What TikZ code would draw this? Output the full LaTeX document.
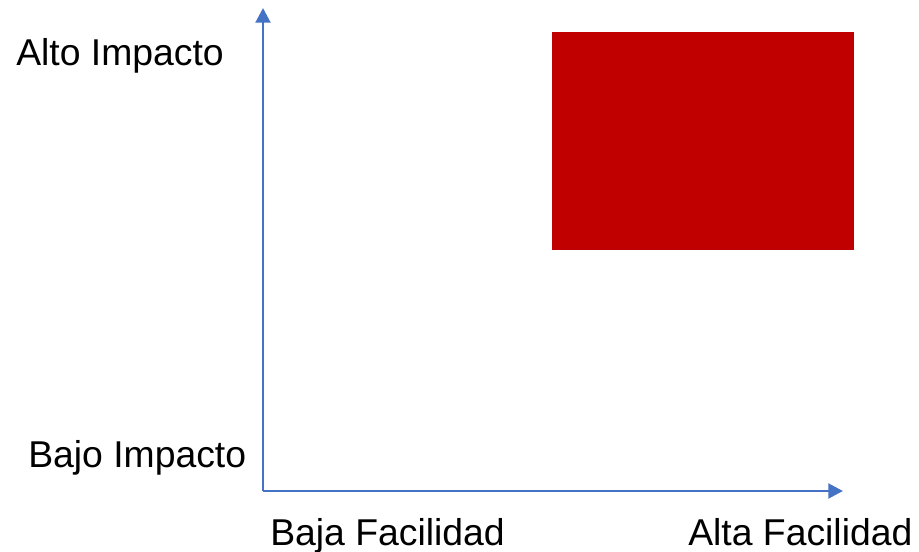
\documentclass[tikz,border=0pt]{standalone}
\usepackage{fontspec}
\setmainfont{Liberation Sans}
\usetikzlibrary{arrows.meta}
\definecolor{axisblue}{HTML}{4472C4}
\definecolor{boxred}{HTML}{C00000}
\tikzset{
  axisline/.style={draw=axisblue, line width=2.2pt, -{Triangle[length=11pt,width=11pt]}},
  lbl/.style={anchor=base west, inner sep=0pt, font=\fontsize{28pt}{32pt}\selectfont, text=black}
}
\begin{document}
\begin{tikzpicture}[x=0.75pt,y=-0.75pt]
\useasboundingbox (0,0) rectangle (919,552);
\coordinate (origin) at (263,491);
\coordinate (ytop) at (263,8);
\coordinate (xend) at (843,491);
\draw[axisline] (origin) -- (ytop);
\draw[axisline] (origin) -- (xend);
\node[fill=boxred, draw=none, inner sep=0pt, minimum width=302*0.75pt, minimum height=218*0.75pt, anchor=north west] (box) at (552,32) {};
\node[lbl] (altoimp) at (16,66) {Alto Impacto};
\node[lbl] (bajoimp) at (28,467) {Bajo Impacto};
\node[lbl] (bajafac) at (270,545) {Baja Facilidad};
\node[lbl] (altafac) at (688,545) {Alta Facilidad};
\end{tikzpicture}
\end{document}
